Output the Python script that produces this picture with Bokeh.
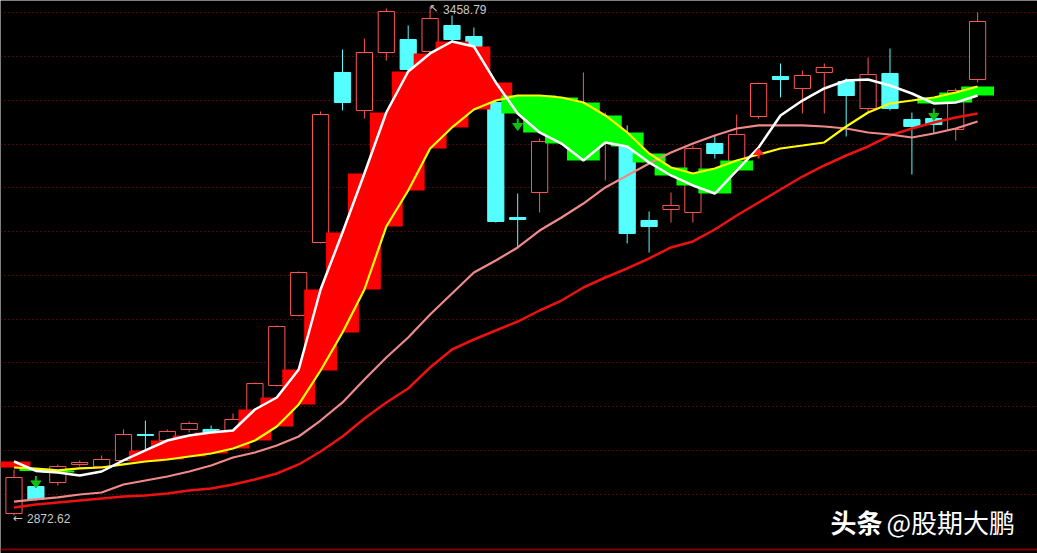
import numpy as np
from bokeh.plotting import figure
from bokeh.models import Range1d, FixedTicker, Grid, Span, Label
from bokeh.embed import file_html
from bokeh.resources import INLINE
from bokeh.core.properties import value

# ---------------- data ----------------
open_ = [2874.9, 2906.0, 2910.6, 2931.4, 2929.1, 2936.0, 2965.9, 2959.0, 2971.7, 2971.7,
         2970.5, 2990.1, 3022.3, 3103.0, 3187.0, 3382.8, 3339.0, 3405.8, 3420.8, 3407.0,
         3436.9, 3424.2, 3348.2, 3215.8, 3244.6, 3310.2, 3293.0, 3302.2, 3298.7, 3212.4,
         3225.0, 3221.6, 3301.0, 3275.7, 3332.1, 3378.2, 3364.4, 3382.8, 3372.4, 3341.3,
         3381.6, 3328.7, 3329.8, 3317.1, 3374.7]
close = [2916.4, 2891.1, 2929.1, 2933.7, 2937.1, 2965.9, 2964.8, 2969.4, 2978.6, 2967.1,
         2983.2, 3024.6, 3090.3, 3152.5, 3334.4, 3348.2, 3405.8, 3453.0, 3386.2, 3445.0,
         3420.8, 3412.7, 3211.2, 3213.5, 3303.3, 3339.0, 3341.3, 3321.8, 3197.4, 3205.4,
         3229.6, 3295.3, 3289.5, 3311.4, 3370.1, 3374.7, 3379.3, 3388.5, 3356.3, 3380.5,
         3341.3, 3320.6, 3322.9, 3362.1, 3441.5]
high = [2925.6, 2909.5, 2931.4, 2936.0, 2941.7, 2971.7, 2982.0, 2971.7, 2980.9, 2976.3,
        2990.1, 3025.8, 3091.4, 3153.6, 3337.9, 3409.3, 3421.9, 3456.5, 3436.9, 3458.79,
        3448.4, 3434.6, 3373.6, 3243.4, 3306.8, 3350.5, 3382.8, 3336.7, 3321.8, 3222.7,
        3244.6, 3298.7, 3310.2, 3334.4, 3371.3, 3393.2, 3385.1, 3393.2, 3375.9, 3400.1,
        3410.4, 3336.7, 3335.6, 3364.4, 3451.9]
low = [2872.62, 2889.9, 2907.2, 2929.1, 2927.9, 2934.8, 2946.3, 2956.7, 2968.2, 2965.9,
       2969.4, 2988.9, 3021.2, 3101.8, 3185.9, 3339.0, 3329.8, 3396.6, 3382.8, 3402.4,
       3417.3, 3410.4, 3210.0, 3181.3, 3221.6, 3304.5, 3290.7, 3258.4, 3185.9, 3175.5,
       3210.0, 3210.0, 3283.7, 3269.9, 3329.8, 3354.0, 3335.6, 3335.6, 3309.1, 3336.7,
       3339.0, 3265.3, 3312.5, 3304.5, 3371.3]

ma5 = [2934.8, 2924.0, 2922.1, 2918.7, 2923.3, 2936.0, 2947.5, 2959.0, 2964.8, 2968.2,
       2970.5, 2994.7, 3008.5, 3040.8, 3132.9, 3198.5, 3266.5, 3336.7, 3383.9, 3404.7,
       3418.5, 3412.7, 3371.3, 3335.6, 3313.7, 3301.0, 3281.4, 3302.2, 3297.6, 3279.1,
       3264.2, 3252.7, 3243.4, 3269.9, 3296.4, 3333.3, 3350.5, 3364.4, 3373.6, 3374.7,
       3367.8, 3358.6, 3347.1, 3348.2, 3356.3]
ma10 = [2927.9, 2926.5, 2924.5, 2926.8, 2927.9, 2931.4, 2934.8, 2937.1, 2940.6, 2944.0,
        2949.8, 2959.0, 2975.1, 3000.5, 3039.6, 3083.4, 3132.9, 3205.4, 3246.9, 3295.3,
        3319.5, 3340.2, 3350.5, 3356.3, 3356.3, 3354.0, 3348.2, 3333.3, 3313.7, 3289.5,
        3273.4, 3266.5, 3272.2, 3281.4, 3288.4, 3295.3, 3298.7, 3302.2, 3320.6, 3336.7,
        3347.1, 3350.5, 3354.0, 3359.8, 3366.7]
ma20 = [2888.7, 2891.1, 2893.4, 2896.8, 2899.1, 2908.3, 2912.9, 2917.5, 2923.3, 2930.2,
        2939.4, 2945.2, 2953.2, 2963.6, 2982.0, 3002.8, 3029.2, 3054.6, 3077.6, 3104.1,
        3128.3, 3152.5, 3166.3, 3181.3, 3200.8, 3215.8, 3231.9, 3250.4, 3264.2, 3278.0,
        3290.7, 3301.0, 3310.2, 3318.3, 3321.8, 3321.8, 3321.8, 3320.6, 3318.3, 3313.7,
        3311.4, 3307.9, 3312.5, 3318.3, 3326.4]
ma60 = [2881.8, 2885.3, 2887.6, 2889.9, 2892.2, 2894.5, 2895.7, 2898.0, 2901.4, 2903.7,
        2908.3, 2914.1, 2921.0, 2931.4, 2946.3, 2963.6, 2984.3, 3002.8, 3018.9, 3043.1,
        3063.8, 3075.3, 3085.7, 3096.0, 3108.7, 3120.2, 3135.2, 3146.7, 3157.1, 3168.6,
        3181.3, 3188.2, 3202.0, 3218.1, 3233.1, 3248.1, 3263.0, 3275.7, 3287.2, 3297.6,
        3310.2, 3318.3, 3325.2, 3331.0, 3335.6]

# band state between MA5 and MA10 per bar: r = red stick, g = green stick, n = none
band = "rggnnn" + "r" * 17 + "g" * 11 + "n" * 8 + "ggg"
sell_signals = [1, 23, 42]
buy_signals = [34]
grid_prices = [3451.5, 3401.1, 3350.7, 3300.4, 3250.0, 3199.6, 3149.2, 3098.9,
               3048.5, 2998.1, 2947.7, 2897.3]
watermark_bold = "头条"
watermark_rest = "@股期大鹏"

# ---------------- layout / style ----------------
W, H = 1037, 553
OX, OY = 0, 0           # page offset of the figure
STEP = 21.9             # px per bar
C0 = 13.5               # page x of first bar centre
P0, PPX = 3465.7, 1.1516  # price at page y=0, price per px

UP = "#ff5555"
DN = "#55ffff"
RED_FILL = "#ff0000"
GREEN_FILL = "#00ff00"
LABEL_C = "#c8c8c8"

x0 = -(C0 - OX) / STEP
x_range = Range1d(x0, x0 + W / STEP)
y_range = Range1d(P0 - PPX * (OY + H), P0 - PPX * OY)

p = figure(width=W, height=H, x_range=x_range, y_range=y_range,
           output_backend="svg", toolbar_location=None,
           x_axis_location=None, y_axis_location=None, min_border=0,
           background_fill_color="black", border_fill_color="black",
           outline_line_color=None)
p.xgrid.visible = False
p.ygrid.visible = False
p.add_layout(Grid(dimension=1, ticker=FixedTicker(ticks=grid_prices),
                  grid_line_color="#a01010", grid_line_dash="1 3", grid_line_width=1))
p.add_layout(Span(location=y_range.start + 4 * PPX, dimension="width",
                  line_color="#800000", line_width=2))

idx = np.arange(len(close))
o = np.array(open_); c = np.array(close); h = np.array(high); l = np.array(low)
up = c >= o
dn = ~up
top = np.maximum(o, c); bot = np.minimum(o, c)

# wicks
p.segment(x0=idx[up], y0=h[up], x1=idx[up], y1=top[up], line_color=UP, line_width=1)
p.segment(x0=idx[up], y0=bot[up], x1=idx[up], y1=l[up], line_color=UP, line_width=1)
p.segment(x0=idx[dn], y0=h[dn], x1=idx[dn], y1=l[dn], line_color=DN, line_width=1)
# bodies
p.vbar(x=idx[up], width=0.74, top=top[up], bottom=bot[up],
       fill_color="black", line_color=UP, line_width=1)
p.vbar(x=idx[dn], width=0.74, top=top[dn], bottom=bot[dn],
       fill_color=DN, line_color=DN, line_width=1)

# band between MA5 and MA10
w5 = np.array(ma5); w10 = np.array(ma10)
xs, ys, pc = [], [], []
for i in range(len(band) - 1):
    if band[i] != "n" and band[i] == band[i + 1]:
        xs.append([i, i + 1, i + 1, i])
        ys.append([w5[i], w5[i + 1], w10[i + 1], w10[i]])
        pc.append(RED_FILL if band[i] == "r" else GREEN_FILL)
p.patches(xs, ys, fill_color=pc, line_color=None)
sel = [i for i, s in enumerate(band) if s != "n"]
p.quad(left=idx[sel] - 0.75, right=idx[sel] + 0.75,
       top=np.maximum(w5, w10)[sel], bottom=np.minimum(w5, w10)[sel],
       fill_color=[RED_FILL if band[i] == "r" else GREEN_FILL for i in sel],
       line_color=None)

# moving averages
p.line(idx, ma60, line_color="#ee1111", line_width=2.5)
p.line(idx, ma20, line_color="#f08a8a", line_width=2.2)
p.line(idx, ma10, line_color="#ffff00", line_width=2.2)
p.line(idx, ma5, line_color="#ffffff", line_width=2.5)

# signal arrows
ppp = (y_range.end - y_range.start) / H
hw = 5 / STEP
for i in sell_signals:
    y = w5[i]
    p.segment(x0=[i], y0=[y - 5 * ppp], x1=[i], y1=[y - 11 * ppp], line_color="#10c010", line_width=2)
    p.patch([i - hw, i + hw, i], [y - 10 * ppp, y - 10 * ppp, y - 17 * ppp],
            fill_color="#10c010", line_color="#10c010")
for i in buy_signals:
    y = w5[i]
    p.segment(x0=[i], y0=[y - 6 * ppp], x1=[i], y1=[y - 11 * ppp], line_color="#ff2020", line_width=2)
    p.patch([i - hw, i + hw, i], [y - 7 * ppp, y - 7 * ppp, y - 1 * ppp],
            fill_color="#ff2020", line_color="#ff2020")

# extreme labels
imax = int(np.argmax(h)); imin = int(np.argmin(l))
p.text(x=[imax], y=[h[imax]], text=["↖"], x_offset=-1, y_offset=2,
       text_font=value("DejaVu Sans"), text_font_size="11px", text_color=LABEL_C,
       text_align="left", text_baseline="middle")
p.text(x=[imax], y=[h[imax]], text=[f"{h[imax]:.2f}"], x_offset=13, y_offset=3,
       text_font=value("Liberation Sans"), text_font_size="12px", text_color=LABEL_C,
       text_align="left", text_baseline="middle")
p.text(x=[imin], y=[l[imin]], text=["←"], x_offset=-1, y_offset=2,
       text_font=value("DejaVu Sans"), text_font_size="12px", text_color=LABEL_C,
       text_align="left", text_baseline="middle")
p.text(x=[imin], y=[l[imin]], text=[f"{l[imin]:.2f}"], x_offset=13, y_offset=3,
       text_font=value("Liberation Sans"), text_font_size="12px", text_color=LABEL_C,
       text_align="left", text_baseline="middle")

# watermark
p.add_layout(Label(x=830 - OX, y=H - (521 - OY), x_units="screen", y_units="screen",
                   text=watermark_bold, text_font="Noto Sans CJK SC", text_font_size="26px",
                   text_font_style="bold", text_color="white", text_baseline="middle"))
p.add_layout(Label(x=886 - OX, y=H - (521 - OY), x_units="screen", y_units="screen",
                   text=watermark_rest, text_font="Noto Sans CJK SC", text_font_size="26px",
                   text_color="white", text_baseline="middle"))

open("out.html", "w").write(file_html(p, INLINE))
